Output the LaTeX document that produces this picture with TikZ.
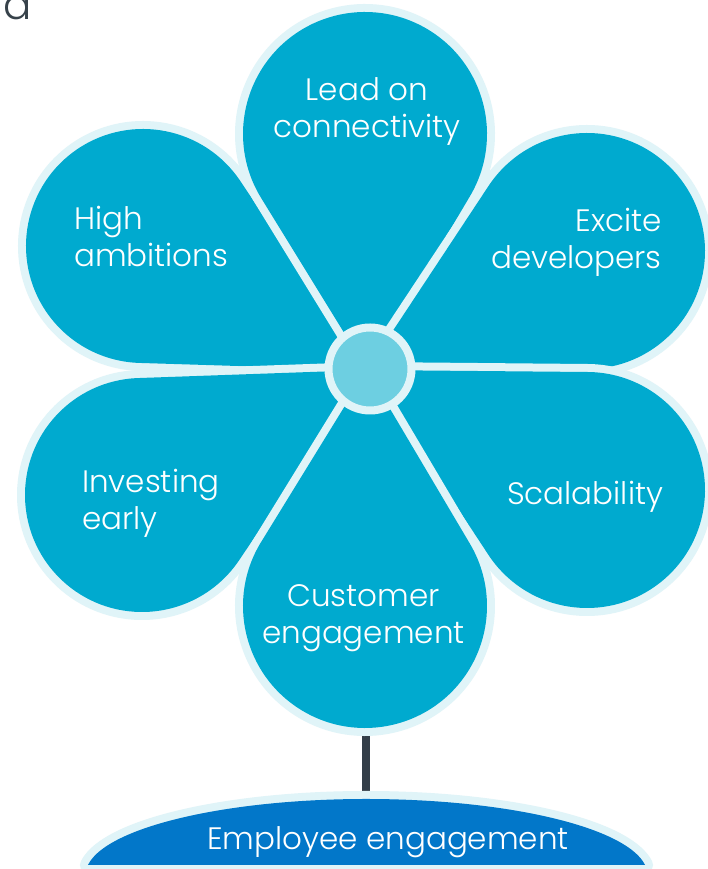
\documentclass[tikz,border=0pt]{standalone}
\usepackage{fontspec}
\IfFontExistsTF{Poppins Light}{\setmainfont{Poppins Light}}{\setmainfont{Poppins}}
\definecolor{petal}{RGB}{0,170,207}
\definecolor{rim}{RGB}{224,244,248}
\definecolor{hubfill}{RGB}{109,207,225}
\definecolor{basefill}{RGB}{2,119,201}
\definecolor{stemcol}{RGB}{51,62,72}
\definecolor{titlecol}{RGB}{55,66,74}
\begin{document}
\begin{tikzpicture}[x=1bp,y=1bp,
  petalrim/.style={draw=rim,line width=16bp,line join=round},
  petalfill/.style={fill=petal},
  lbl/.style={text=white,font=\fontsize{31bp}{37bp}\selectfont,inner sep=0pt},
]
\useasboundingbox (0,0) rectangle (708,869);
\fill[white] (0,0) rectangle (708,869);
% stem
\coordinate (stemtop) at (365.5,136);
\coordinate (stembot) at (365.5,76);
\draw[stemcol,line width=8bp] (stemtop) -- (stembot);
% petals
\coordinate (tip) at (367,499);
\foreach \px/\py/\r in {143/623/117, 365/735/122, 587/618/118, 587/379/118, 142/374/117, 365/263/122} {
  \pgfmathsetmacro\th{atan2(\py-499,\px-367)}
  \pgfmathsetmacro\al{asin(\r/veclen(\px-367,\py-499))}
  \pgfmathsetmacro\sa{\th-90-\al}
  \pgfmathsetmacro\da{180+2*\al}
  \draw[petalrim] (tip) -- ([shift={(\px,\py)}]\sa:\r) arc[start angle=\sa, delta angle=\da, radius=\r] -- cycle;
  \fill[petalfill] (tip) -- ([shift={(\px,\py)}]\sa:\r) arc[start angle=\sa, delta angle=\da, radius=\r] -- cycle;
}
% hub
\node[circle,minimum size=83bp,inner sep=0pt,fill=hubfill,draw=rim,line width=8bp] (hub) at (370,500) {};
% base
\draw[petalrim] (87.95,4) arc[start angle=172.44, end angle=7.56, x radius=281, y radius=76] -- cycle;
\fill[basefill] (87.95,4) arc[start angle=172.44, end angle=7.56, x radius=281, y radius=76] -- cycle;
% labels (anchor base = baseline of last line)
\node[lbl,align=center,anchor=base] (lead) at (367,731) {Lead on\\connectivity};
\node[lbl,align=left,anchor=base west] (high) at (74,602) {High\\ambitions};
\node[lbl,align=right,anchor=base east] (excite) at (662,600) {Excite\\developers};
\node[lbl,anchor=base west] (scal) at (507,364) {Scalability};
\node[lbl,align=left,anchor=base west] (invest) at (82,339) {Investing\\early};
\node[lbl,align=center,anchor=base] (cust) at (363.5,225) {Customer\\engagement};
\node[lbl,anchor=base] (emp) at (388,19) {Employee engagement};
\node[font=\fontsize{42bp}{42bp}\selectfont,text=titlecol,anchor=base west,inner sep=0pt] (title) at (3,849) {a};
\end{tikzpicture}
\end{document}
